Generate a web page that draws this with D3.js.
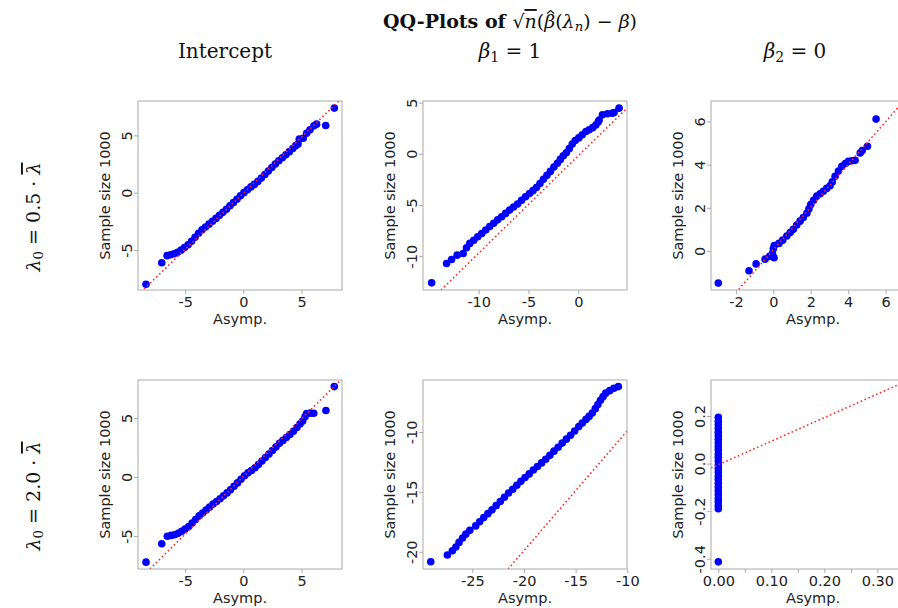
<!DOCTYPE html>
<html><head><meta charset="utf-8">
<script src="https://cdn.jsdelivr.net/npm/d3@7"></script>
<style>body{margin:0;background:#fff}</style>
</head><body><svg id="c" width="898" height="608"></svg>
<script>
// ---------------- DATA ----------------
// QQ points [asymptotic quantile, sample-size-1000 quantile]
const ptsInterceptL05 = [[-8.36,-8.0],[-7.01,-6.12],[-6.55,-5.5],[-6.25,-5.42],[-5.95,-5.33],[-5.65,-5.2],[-5.35,-5.02],[-5.05,-4.8],[-4.75,-4.55],[-4.45,-4.25],[-4.15,-3.9],[-3.85,-3.55],[-3.55,-3.25],[-3.25,-3.0],[-2.95,-2.75],[-2.65,-2.5],[-2.35,-2.25],[-2.05,-1.98],[-1.75,-1.72],[-1.45,-1.45],[-1.15,-1.15],[-0.85,-0.87],[-0.55,-0.58],[-0.25,-0.28],[0.05,0.0],[0.35,0.25],[0.65,0.5],[0.95,0.72],[1.25,0.98],[1.55,1.28],[1.85,1.58],[2.15,1.88],[2.45,2.2],[2.75,2.5],[3.05,2.78],[3.35,3.05],[3.65,3.3],[3.95,3.58],[4.25,3.85],[4.5,4.1],[4.7,4.25],[4.81,4.67],[5.15,4.75],[5.44,5.19],[5.73,5.48],[6.07,5.83],[6.3,5.98],[7.08,5.86],[7.82,7.38]];
const ptsBeta1L05 = [[-14.73,-12.6],[-13.23,-10.71],[-12.73,-10.32],[-12.17,-9.9],[-11.57,-9.74],[-11.23,-9.18],[-10.9,-8.75],[-10.5,-8.45],[-10.1,-8.1],[-9.7,-7.78],[-9.3,-7.45],[-8.9,-7.1],[-8.5,-6.78],[-8.1,-6.45],[-7.7,-6.15],[-7.3,-5.82],[-6.9,-5.5],[-6.5,-5.2],[-6.1,-4.9],[-5.7,-4.55],[-5.3,-4.2],[-4.9,-3.88],[-4.55,-3.6],[-4.2,-3.3],[-3.85,-2.9],[-3.5,-2.5],[-3.15,-2.1],[-2.8,-1.72],[-2.45,-1.3],[-2.1,-0.92],[-1.8,-0.55],[-1.5,-0.2],[-1.2,0.1],[-0.9,0.5],[-0.6,0.95],[-0.3,1.3],[0.05,1.55],[0.4,1.85],[0.77,2.17],[1.1,2.35],[1.45,2.55],[1.77,2.8],[2.0,3.1],[2.1,3.3],[2.43,3.8],[2.93,3.9],[3.4,3.95],[3.6,4.02],[4.1,4.45]];
const ptsBeta2L05 = [[-2.94,-1.49],[-1.3,-0.92],[-0.92,-0.6],[-0.44,-0.38],[-0.2,-0.25],[-0.05,-0.12],[0.04,-0.31],[0.0,0.1],[0.05,0.25],[0.3,0.35],[0.5,0.5],[0.72,0.69],[0.9,0.85],[1.07,1.0],[1.25,1.2],[1.43,1.38],[1.6,1.55],[1.79,1.75],[1.9,1.95],[2.0,2.15],[2.15,2.35],[2.32,2.54],[2.5,2.65],[2.67,2.77],[2.85,2.9],[3.03,3.02],[3.15,3.2],[3.3,3.46],[3.48,3.7],[3.66,3.92],[3.85,4.05],[4.01,4.15],[4.2,4.18],[4.37,4.2],[4.64,4.54],[4.75,4.65],[5.03,4.85],[5.49,6.11]];
const ptsInterceptL20 = [[-8.36,-7.22],[-7.01,-5.66],[-6.53,-5.02],[-6.2,-4.95],[-5.9,-4.9],[-5.6,-4.78],[-5.3,-4.6],[-5.0,-4.42],[-4.7,-4.2],[-4.4,-3.9],[-4.1,-3.6],[-3.8,-3.3],[-3.5,-3.05],[-3.2,-2.8],[-2.9,-2.55],[-2.6,-2.3],[-2.3,-2.08],[-2.0,-1.85],[-1.7,-1.6],[-1.4,-1.35],[-1.1,-1.08],[-0.8,-0.78],[-0.5,-0.5],[-0.2,-0.2],[0.1,0.1],[0.4,0.35],[0.7,0.55],[1.0,0.78],[1.3,1.05],[1.6,1.35],[1.9,1.65],[2.2,1.95],[2.5,2.25],[2.8,2.55],[3.1,2.85],[3.4,3.1],[3.7,3.35],[4.0,3.6],[4.3,3.88],[4.6,4.2],[4.87,4.5],[5.1,4.75],[5.3,5.1],[5.44,5.38],[5.75,5.41],[6.05,5.4],[7.1,5.63],[7.82,7.66]];
const ptsBeta1L20 = [[-29.03,-20.83],[-27.42,-20.27],[-26.94,-19.92],[-26.6,-19.6],[-26.29,-19.22],[-25.95,-18.85],[-25.64,-18.53],[-25.25,-18.2],[-24.68,-17.84],[-24.3,-17.5],[-23.9,-17.15],[-23.5,-16.82],[-23.1,-16.5],[-22.7,-16.15],[-22.3,-15.8],[-21.9,-15.45],[-21.5,-15.1],[-21.1,-14.78],[-20.7,-14.45],[-20.3,-14.12],[-19.9,-13.8],[-19.5,-13.5],[-19.1,-13.18],[-18.7,-12.88],[-18.3,-12.58],[-17.9,-12.28],[-17.5,-11.95],[-17.1,-11.6],[-16.7,-11.27],[-16.3,-10.93],[-15.9,-10.6],[-15.5,-10.27],[-15.1,-9.92],[-14.7,-9.55],[-14.36,-9.25],[-14.0,-8.95],[-13.7,-8.7],[-13.39,-8.42],[-13.1,-8.05],[-12.85,-7.7],[-12.6,-7.35],[-12.35,-7.05],[-12.09,-6.76],[-11.7,-6.55],[-11.3,-6.35],[-10.87,-6.21]];
const ptsBeta2L20 = [[0,-0.413],[0,-0.19],[0,-0.176],[0,-0.161],[0,-0.147],[0,-0.13],[0,-0.114],[0,-0.099],[0,-0.083],[0,-0.066],[0,-0.052],[0,-0.036],[0,-0.021],[0,-0.006],[0,0.011],[0,0.026],[0,0.04],[0,0.057],[0,0.071],[0,0.087],[0,0.102],[0,0.118],[0,0.132],[0,0.148],[0,0.163],[0,0.178],[0,0.194]];

// axis limits per panel (row-major: λ0=0.5 row, then λ0=2.0 row)
const xLimits = [[-9.05,8.48],[-15.6,4.9],[-3.33,7.57],[-9.05,8.48],[-29.78,-10.03],[-0.0138,0.371]];
const yLimits = [[-8.5,8.0],[-13.3,5.15],[-1.81,6.95],[-7.8,8.22],[-21.44,-5.66],[-0.443,0.351]];
const xTickValues = [[-5,0,5],[-10,-5,0],[-2,0,2,4,6],[-5,0,5],[-25,-20,-15,-10],[0,0.05,0.1,0.15,0.2,0.25,0.3,0.35]];
const xTickLabels = [["-5","0","5"],["-10","-5","0"],["-2","0","2","4","6"],["-5","0","5"],["-25","-20","-15","-10"],["0.00","","0.10","","0.20","","0.30",""]];
const yTickValues = [[-5,0,5],[-10,-5,0,5],[0,2,4,6],[-5,0,5],[-20,-15,-10],[-0.4,-0.2,0,0.2]];
const yTickLabels = [["-5","0","5"],["-10","-5","0","5"],["0","2","4","6"],["-5","0","5"],["-20","-15","-10"],["-0.4","-0.2","0.0","0.2"]];
// reference lines [intercept, slope]
const refLines = [[-0.05,0.98],[-0.2,0.95],[0.05,0.99],[0.04,0.977],[0.1,1.0],[-0.005,0.99]];

const xAxisTitle = "Asymp.";
const yAxisTitle = "Sample size 1000";

// ---------------- DRAW ----------------
const svg = d3.select("#c");
svg.append("rect").attr("width",898).attr("height",608).attr("fill","#fff");

const serif = "'DejaVu Serif', serif";
const sans = "'DejaVu Sans', sans-serif";

function rich(sel, segs, size){
  const nodes = [];
  segs.forEach(s=>{
    const t = sel.append("tspan").text(s.t);
    if(s.i) t.attr("font-style","italic");
    if(s.b) t.attr("font-weight","bold");
    if(s.sub){ t.attr("font-size", size*0.7).attr("baseline-shift","-25%"); }
    if(s.ol) t.style("text-decoration","overline");
    nodes.push({seg:s, node:t.node()});
  });
  return nodes;
}

// title
const title = svg.append("text").attr("x",510).attr("y",28).attr("text-anchor","middle")
  .attr("font-family",serif).attr("font-size",19).attr("fill","#111");
const titleNodes = rich(title,[{t:"QQ-Plots of ",b:true},{t:"√"},{t:"n",i:true,ol:true},{t:"("},
  {t:"β",i:true,hat:true},
  {t:"("},{t:"λ",i:true},{t:"n",i:true,sub:true},{t:") − "},{t:"β",i:true},{t:")"}],19);
// circumflex accent (drawn as a small stroke) over the hatted β
titleNodes.filter(d=>d.seg.hat).forEach(d=>{
  const bb = d.node.getBBox();
  const cx = bb.x + bb.width*0.62, top = bb.y + 0.5;
  svg.append("path").attr("d",`M${cx-3.6},${top+3.2}L${cx},${top}L${cx+3.6},${top+3.2}`)
    .attr("fill","none").attr("stroke","#111").attr("stroke-width",1.1);
});

// column headers
const colHeaders = [
  [{t:"Intercept"}],
  [{t:"β",i:true},{t:"1",sub:true},{t:" = 1"}],
  [{t:"β",i:true},{t:"2",sub:true},{t:" = 0"}]
];
const colCenters = [225,510,795];
colHeaders.forEach((h,i)=>{
  const t = svg.append("text").attr("x",colCenters[i]).attr("y",58).attr("text-anchor","middle")
    .attr("font-family",serif).attr("font-size",20).attr("fill","#111");
  rich(t,h,20);
});

// row labels
const rowHeaders = [
  [{t:"λ",i:true},{t:"0",sub:true},{t:" = 0.5 · "},{t:"λ",i:true,ol:true}],
  [{t:"λ",i:true},{t:"0",sub:true},{t:" = 2.0 · "},{t:"λ",i:true,ol:true}]
];
const rowCenters = [217,496];
rowHeaders.forEach((h,i)=>{
  const t = svg.append("text").attr("transform",`translate(40,${rowCenters[i]}) rotate(-90)`)
    .attr("text-anchor","middle").attr("font-family",serif).attr("font-size",19).attr("fill","#111");
  rich(t,h,19);
});

const allPts = [ptsInterceptL05, ptsBeta1L05, ptsBeta2L05, ptsInterceptL20, ptsBeta1L20, ptsBeta2L20];
const colX = [138,423,711], rowY = [101,380], PW = 204, PH = 189;
const boxColor = "#aaaaaa";
const fs = 14.5;

allPts.forEach((pts,k)=>{
  const r = Math.floor(k/3), c = k%3;
  const g = svg.append("g").attr("transform",`translate(${colX[c]},${rowY[r]})`);
  const x = d3.scaleLinear().domain(xLimits[k]).range([0,PW]);
  const y = d3.scaleLinear().domain(yLimits[k]).range([PH,0]);

  const clipId = "clip"+k;
  g.append("clipPath").attr("id",clipId).append("rect").attr("width",PW).attr("height",PH);

  // points
  g.append("g").selectAll("circle").data(pts).join("circle")
    .attr("cx",d=>x(d[0])).attr("cy",d=>y(d[1])).attr("r",3.8).attr("fill","#0000ff");

  // reference line
  const [a,b] = refLines[k];
  const xs = xLimits[k];
  g.append("line").attr("clip-path",`url(#${clipId})`)
    .attr("x1",x(xs[0])).attr("y1",y(a+b*xs[0])).attr("x2",x(xs[1])).attr("y2",y(a+b*xs[1]))
    .attr("stroke","#ff2a2a").attr("stroke-width",1.6).attr("stroke-dasharray","1.6,2.6");

  // box
  g.append("rect").attr("width",PW).attr("height",PH).attr("fill","none").attr("stroke",boxColor).attr("stroke-width",1);

  // x axis
  const xa = g.append("g").attr("transform",`translate(0,${PH})`)
    .call(d3.axisBottom(x).tickValues(xTickValues[k]).tickFormat((d,i)=>xTickLabels[k][i]).tickSize(4).tickPadding(3));
  xa.select(".domain").remove();
  xa.selectAll("line").attr("stroke",boxColor);
  xa.selectAll("text").attr("font-family",sans).attr("font-size",fs).attr("fill","#222");

  // y axis
  const ya = g.append("g")
    .call(d3.axisLeft(y).tickValues(yTickValues[k]).tickFormat((d,i)=>yTickLabels[k][i]).tickSize(4));
  ya.select(".domain").remove();
  ya.selectAll("line").attr("stroke",boxColor);
  ya.selectAll("text").attr("font-family",sans).attr("font-size",fs).attr("fill","#222")
    .attr("text-anchor","middle").attr("x",0).attr("y",-6).attr("dy",null).attr("transform","rotate(-90)");

  // axis titles
  g.append("text").attr("x",PW/2).attr("y",PH+34).attr("text-anchor","middle")
    .attr("font-family",sans).attr("font-size",fs).attr("fill","#222").text(xAxisTitle);
  g.append("text").attr("transform",`translate(-28,${PH/2}) rotate(-90)`).attr("text-anchor","middle")
    .attr("font-family",sans).attr("font-size",fs).attr("fill","#222").text(yAxisTitle);
});
</script>
</body></html>
